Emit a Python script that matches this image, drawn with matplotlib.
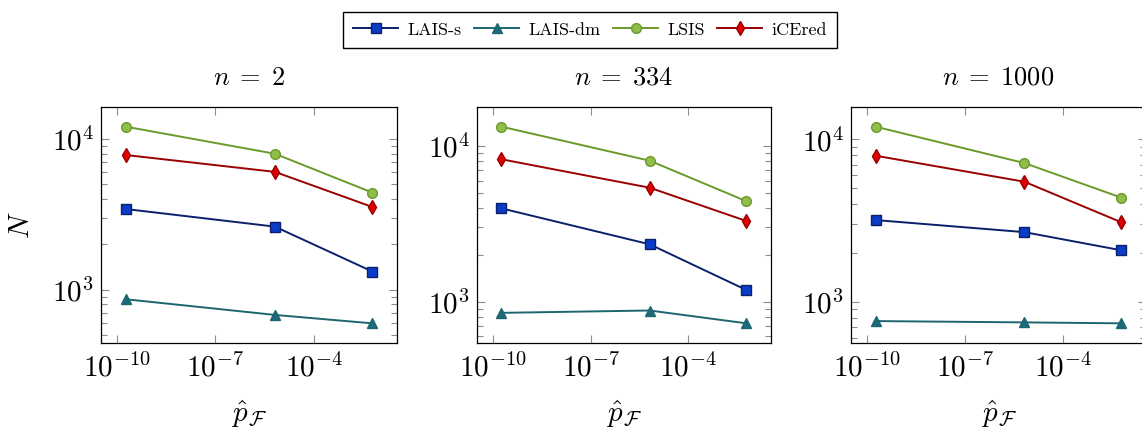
import matplotlib
matplotlib.use("Agg")
from matplotlib import pyplot as plt
from matplotlib import ticker

plt.rcParams['font.family'] = ['cmr10', 'DejaVu Serif']
plt.rcParams['mathtext.fontset'] = 'cm'
plt.rcParams['axes.formatter.use_mathtext'] = True

# estimated failure probabilities (x axis)
p_hat = [1.8e-10, 6.6e-6, 6.3e-3]

dims = ['2', '334', '1000']
lais_s = [[3430, 2620, 1320], [3980, 2340, 1190], [3190, 2690, 2080]]
lais_dm = [[864, 680, 598], [850, 880, 728], [764, 750, 740]]
lsis = [[12070, 7980, 4410], [13310, 8050, 4420], [11960, 7150, 4380]]
icered = [[7830, 6050, 3540], [8220, 5400, 3300], [7930, 5490, 3090]]

methods = ['LAIS-s', 'LAIS-dm', 'LSIS', 'iCEred']
series = [lais_s, lais_dm, lsis, icered]
styles = [
    dict(color='#0b1f6b', marker='s', mfc='#0a3cc8', mec='#0b1f6b', ms=6.5),
    dict(color='#1d6670', marker='^', mfc='#1d6a7a', mec='#1d6670', ms=7),
    dict(color='#6a9a2a', marker='o', mfc='#8fbf4a', mec='#6a9a2a', ms=7),
    dict(color='#9a0000', marker='d', mfc='#e00000', mec='#9a0000', ms=7.5),
]

fig = plt.figure(figsize=(11.42, 4.32), dpi=100)
W, H = 1142.0, 432.0
boxes = [(101, 397), (477, 771), (851, 1146)]
top, bottom = 107, 343

handles = []
for i, (l, r) in enumerate(boxes):
    ax = fig.add_axes([l / W, 1 - bottom / H, (r - l) / W, (bottom - top) / H])
    for k, s in enumerate(series):
        h, = ax.plot(p_hat, s[i], lw=1.4, **styles[k])
        if i == 0:
            handles.append(h)
    ax.set_xscale('log')
    ax.set_yscale('log')
    ax.margins(x=0.1, y=0.1)
    ax.set_xticks([1e-10, 1e-7, 1e-4])
    ax.xaxis.set_minor_locator(ticker.NullLocator())
    ax.yaxis.set_minor_formatter(ticker.NullFormatter())
    ax.tick_params(which='both', direction='in', top=True, right=True,
                   color='#8c8c8c', labelsize=21)
    ax.tick_params(which='major', length=6, width=0.8)
    ax.tick_params(which='minor', length=4, width=0.8)
    ax.tick_params(axis='x', pad=7)
    ax.tick_params(axis='y', pad=5)
    for sp in ax.spines.values():
        sp.set_linewidth(0.9)
    ax.set_title(r'$n\;=\;%s$' % dims[i], fontsize=19, pad=16)
    ax.set_xlabel(r'$\hat{p}_{\mathcal{F}}$', fontsize=21, labelpad=12)
    if i == 0:
        ax.set_ylabel('$N$', fontsize=21, labelpad=12)

fig.legend(handles, methods, loc='upper center', bbox_to_anchor=(590 / W, 0.993),
           ncol=4, fontsize=13, frameon=True, fancybox=False, edgecolor='black',
           framealpha=1, handlelength=2.5, handletextpad=0.5, columnspacing=0.7,
           borderpad=0.55)

fig.savefig('out.png', dpi=100)
